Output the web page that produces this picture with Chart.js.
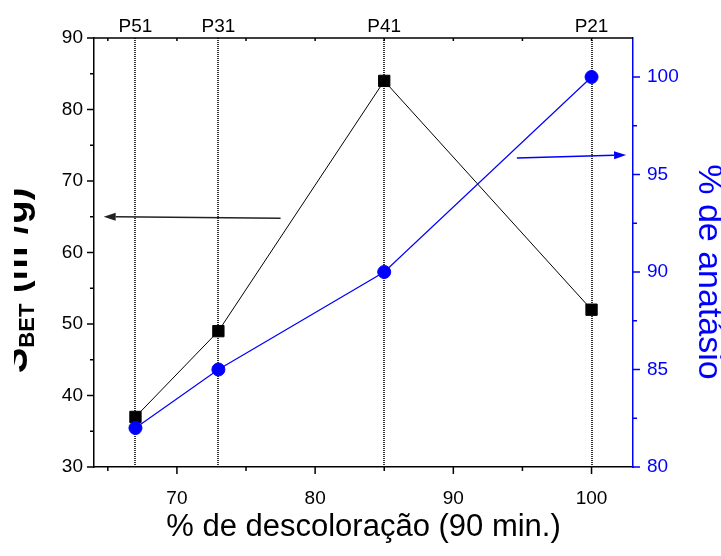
<!DOCTYPE html>
<html>
<head>
<meta charset="utf-8">
<script src="https://cdn.jsdelivr.net/npm/chart.js@4/dist/chart.umd.min.js"></script>
<style>
  html, body { margin: 0; padding: 0; background: #fff; }
  #wrap { width: 721px; height: 556px; }
</style>
</head>
<body>
<div id="wrap"><canvas id="chart"></canvas></div>
<script>
// samples and their measured values
const samples = ['P51', 'P31', 'P41', 'P21'];
const decolor = [67, 73, 85, 100];      // % de descoloração (90 min.)
const sbet = [37, 49, 84, 52];          // S_BET (m²/g)
const anatase = [82, 85, 90, 100];      // % de anatásio

// axis ticks (majors get labels)
const xTicks = [65, 70, 75, 80, 85, 90, 95, 100];
const leftTicks = [30, 35, 40, 45, 50, 55, 60, 65, 70, 75, 80, 85, 90];
const rightTicks = [80, 82.5, 85, 87.5, 90, 92.5, 95, 97.5, 100];

const BLUE = '#0000ff';
const FONT = 'Arial, "Liberation Sans", sans-serif';
Chart.defaults.font.family = FONT;
Chart.defaults.color = '#000';

function fixSize(prop, size) {
    return (s) => { s[prop] = size; };
}

function setTicks(values) {
    return (s) => { s.ticks = values.map(v => ({ value: v })); };
}

function arrow(ctx, x1, y1, x2, y2, color) {
    const ang = Math.atan2(y2 - y1, x2 - x1);
    const len = 12, half = 4;
    ctx.save();
    ctx.strokeStyle = color;
    ctx.fillStyle = color;
    ctx.lineWidth = 1.5;
    ctx.beginPath();
    ctx.moveTo(x1, y1);
    ctx.lineTo(x2 - Math.cos(ang) * len, y2 - Math.sin(ang) * len);
    ctx.stroke();
    ctx.beginPath();
    ctx.moveTo(x2, y2);
    ctx.lineTo(x2 - Math.cos(ang) * len - Math.sin(ang) * half, y2 - Math.sin(ang) * len + Math.cos(ang) * half);
    ctx.lineTo(x2 - Math.cos(ang) * len + Math.sin(ang) * half, y2 - Math.sin(ang) * len - Math.cos(ang) * half);
    ctx.closePath();
    ctx.fill();
    ctx.restore();
}

// tick marks, top frame, arrows and axis titles
const decor = {
    id: 'decor',
    afterDraw(chart) {
        const { ctx, chartArea: a, scales } = chart;
        const x = scales.x, y = scales.y, y1 = scales.y1;
        ctx.save();
        ctx.lineWidth = 1.5;
        ctx.strokeStyle = '#000';
        ctx.beginPath();
        ctx.moveTo(a.left, a.top);
        ctx.lineTo(a.right, a.top);
        xTicks.forEach(v => {
            const px = x.getPixelForValue(v);
            ctx.moveTo(px, a.bottom);
            ctx.lineTo(px, a.bottom + (v % 10 === 0 ? 7 : 4));
            ctx.moveTo(px, a.top);
            ctx.lineTo(px, a.top + 3);
        });
        leftTicks.forEach(v => {
            const py = y.getPixelForValue(v);
            ctx.moveTo(a.left, py);
            ctx.lineTo(a.left - (v % 10 === 0 ? 7 : 4), py);
        });
        ctx.stroke();
        ctx.strokeStyle = BLUE;
        ctx.beginPath();
        rightTicks.forEach(v => {
            const py = y1.getPixelForValue(v);
            ctx.moveTo(a.right, py);
            ctx.lineTo(a.right + (v % 5 === 0 ? 7 : 4), py);
        });
        ctx.stroke();
        ctx.restore();

        // arrows pointing at each series' axis
        arrow(ctx, x.getPixelForValue(77.5), y.getPixelForValue(64.8),
            x.getPixelForValue(64.7), y.getPixelForValue(65), '#222');
        arrow(ctx, x.getPixelForValue(94.6), y1.getPixelForValue(95.85),
            x.getPixelForValue(102.5), y1.getPixelForValue(96), BLUE);

        // x title
        ctx.save();
        ctx.fillStyle = '#000';
        ctx.font = '31px ' + FONT;
        ctx.textAlign = 'center';
        ctx.textBaseline = 'middle';
        ctx.fillText('% de descoloração (90 min.)', (a.left + a.right) / 2, 527);
        ctx.restore();

        // right title
        ctx.save();
        ctx.fillStyle = BLUE;
        ctx.font = '34px ' + FONT;
        ctx.translate(708, 272);
        ctx.rotate(Math.PI / 2);
        ctx.textAlign = 'center';
        ctx.textBaseline = 'middle';
        ctx.fillText('% de anatásio', 0, 0);
        ctx.restore();

        // left title, runs off the left edge
        ctx.save();
        ctx.beginPath();
        ctx.rect(14, 0, 100, chart.height);
        ctx.clip();
        ctx.fillStyle = '#000';
        ctx.translate(27, 373);
        ctx.rotate(-Math.PI / 2);
        ctx.textBaseline = 'alphabetic';
        ctx.font = 'bold 38px ' + FONT;
        const wS = ctx.measureText('S').width;
        ctx.fillText('S', 0, 0);
        ctx.font = 'bold 22px ' + FONT;
        const wSub = ctx.measureText('BET').width;
        ctx.fillText('BET', wS, 7);
        ctx.font = 'bold 38px ' + FONT;
        ctx.fillText(' (m²/g)', wS + wSub, 0);
        ctx.restore();
    }
};

new Chart(document.getElementById('chart'), {
    type: 'line',
    data: {
        datasets: [
            {
                label: '% de anatásio',
                data: decolor.map((v, i) => ({ x: v, y: anatase[i] })),
                yAxisID: 'y1',
                borderColor: BLUE,
                backgroundColor: BLUE,
                borderWidth: 1.2,
                pointStyle: 'circle',
                pointRadius: 6.5,
                pointBorderWidth: 1,
                tension: 0
            },
            {
                label: 'S_BET',
                data: decolor.map((v, i) => ({ x: v, y: sbet[i] })),
                yAxisID: 'y',
                borderColor: '#000',
                backgroundColor: '#000',
                borderWidth: 1,
                pointStyle: 'rect',
                pointRadius: 8,
                pointBorderWidth: 1,
                tension: 0
            }
        ]
    },
    options: {
        responsive: true,
        maintainAspectRatio: false,
        animation: false,
        layout: { padding: 0 },
        plugins: { legend: { display: false }, tooltip: { enabled: false } },
        scales: {
            x: {
                type: 'linear',
                position: 'bottom',
                min: 64,
                max: 103,
                afterFit: fixSize('height', 89),
                afterBuildTicks: setTicks(xTicks),
                grid: { display: false, drawTicks: false, tickLength: 0 },
                border: { color: '#000', width: 1.5 },
                ticks: {
                    padding: 20,
                    autoSkip: false,
                    maxRotation: 0,
                    font: { size: 19 },
                    callback: v => (v % 10 === 0 ? v : '')
                }
            },
            xTop: {
                type: 'linear',
                position: 'top',
                min: 64,
                max: 103,
                afterFit: fixSize('height', 38),
                afterBuildTicks: setTicks(decolor),
                // dotted guides through each sample
                grid: { display: true, drawOnChartArea: true, drawTicks: false, tickLength: 0, color: '#333', lineWidth: 2 },
                border: { display: false, dash: [1, 1] },
                ticks: {
                    padding: 0,
                    autoSkip: false,
                    maxRotation: 0,
                    font: { size: 19 },
                    callback: v => samples[decolor.indexOf(v)]
                }
            },
            y: {
                position: 'left',
                min: 30,
                max: 90,
                afterFit: fixSize('width', 94),
                afterBuildTicks: setTicks([30, 40, 50, 60, 70, 80, 90]),
                grid: { display: false, drawTicks: false, tickLength: 0 },
                border: { color: '#000', width: 1.5 },
                ticks: { padding: 11, font: { size: 19 } }
            },
            y1: {
                position: 'right',
                min: 80,
                max: 102,
                afterFit: fixSize('width', 88),
                afterBuildTicks: setTicks([80, 85, 90, 95, 100]),
                grid: { display: false, drawTicks: false, tickLength: 0 },
                border: { color: BLUE, width: 1.5 },
                ticks: { padding: 14, color: BLUE, font: { size: 19 } }
            }
        }
    },
    plugins: [decor]
});
</script>
</body>
</html>
